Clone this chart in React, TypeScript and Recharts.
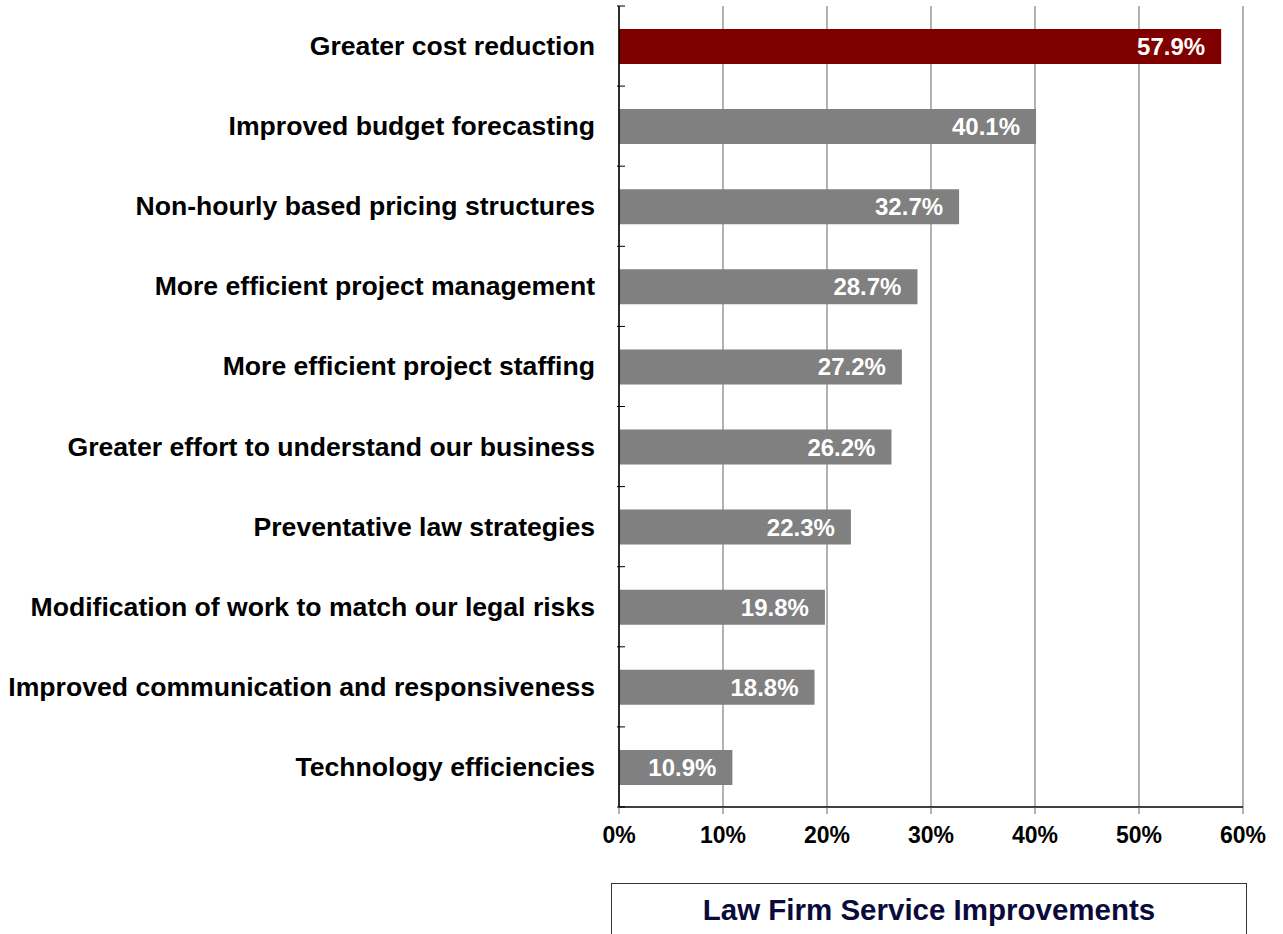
import { BarChart, Bar, XAxis, YAxis, CartesianGrid, Cell, LabelList } from "recharts";

const categories = [
  "Greater cost reduction",
  "Improved budget forecasting",
  "Non-hourly based pricing structures",
  "More efficient project management",
  "More efficient project staffing",
  "Greater effort to understand our business",
  "Preventative law strategies",
  "Modification of work to match our legal risks",
  "Improved communication and responsiveness",
  "Technology efficiencies",
];

const values = [57.9, 40.1, 32.7, 28.7, 27.2, 26.2, 22.3, 19.8, 18.8, 10.9];

const xTicks = [0, 10, 20, 30, 40, 50, 60];

const seriesName = "Law Firm Service Improvements";

const data = categories.map((name, i) => ({ name, value: values[i] }));

const W = 1283;
const H = 934;
const MARGIN = { top: 6, right: 40, left: 0, bottom: 87 };
const X_AXIS_H = 40;
const Y_AXIS_W = 619;
const BAND = (H - MARGIN.top - MARGIN.bottom - X_AXIS_H) / categories.length;
const FONT = "'Liberation Sans', Arial, Helvetica, sans-serif";

function CategoryTick(props: any) {
  const { x, y, payload, index } = props;
  const axisX = x + 8;
  return (
    <g>
      <line x1={axisX - 8} x2={axisX} y1={y - BAND / 2} y2={y - BAND / 2} stroke="#000" strokeWidth={1} />
      {index === categories.length - 1 && (
        <line x1={axisX - 8} x2={axisX} y1={y + BAND / 2} y2={y + BAND / 2} stroke="#000" strokeWidth={1} />
      )}
      <text
        x={axisX - 30}
        y={y}
        textAnchor="end"
        dominantBaseline="central"
        fontFamily={FONT}
        fontWeight="bold"
        fontSize={26.6}
        fill="#000"
      >
        {payload.value}
      </text>
    </g>
  );
}

export default function App() {
  return (
    <div style={{ position: "absolute", left: 0, top: 0, width: W, height: H, background: "#fff", fontFamily: FONT }}>
      <BarChart width={W} height={H} data={data} layout="vertical" margin={MARGIN}>
        <CartesianGrid horizontal={false} stroke="#999" strokeWidth={1.5} />
        <XAxis
          type="number"
          domain={[0, 60]}
          ticks={xTicks}
          interval={0}
          height={X_AXIS_H}
          tickFormatter={(v) => `${v}%`}
          axisLine={{ stroke: "#000", strokeWidth: 1.5 }}
          tickLine={{ stroke: "#666" }}
          tickSize={7}
          tickMargin={13}
          tick={{ fill: "#000", fontSize: 23, fontWeight: "bold", fontFamily: FONT }}
        />
        <YAxis
          type="category"
          dataKey="name"
          width={Y_AXIS_W}
          axisLine={{ stroke: "#000", strokeWidth: 1.5 }}
          tickLine={false}
          tickSize={0}
          interval={0}
          tick={<CategoryTick />}
        />
        <Bar dataKey="value" name={seriesName} barSize={35} isAnimationActive={false}>
          {data.map((d, i) => (
            <Cell key={d.name} fill={i === 0 ? "#800000" : "#808080"} />
          ))}
          <LabelList
            dataKey="value"
            position="insideRight"
            offset={16}
            formatter={(v: any) => `${Number(v).toFixed(1)}%`}
            fill="#fff"
            fontSize={24}
            fontWeight="bold"
            fontFamily={FONT}
          />
        </Bar>
      </BarChart>
      <div
        style={{
          position: "absolute",
          left: 611,
          top: 883,
          width: 636,
          height: 80,
          border: "1.5px solid #333",
          boxSizing: "border-box",
          textAlign: "center",
          color: "#0b0b3b",
          fontWeight: "bold",
          fontSize: 29.5,
          paddingTop: 9,
          lineHeight: "34px",
        }}
      >
        {seriesName}
      </div>
    </div>
  );
}
